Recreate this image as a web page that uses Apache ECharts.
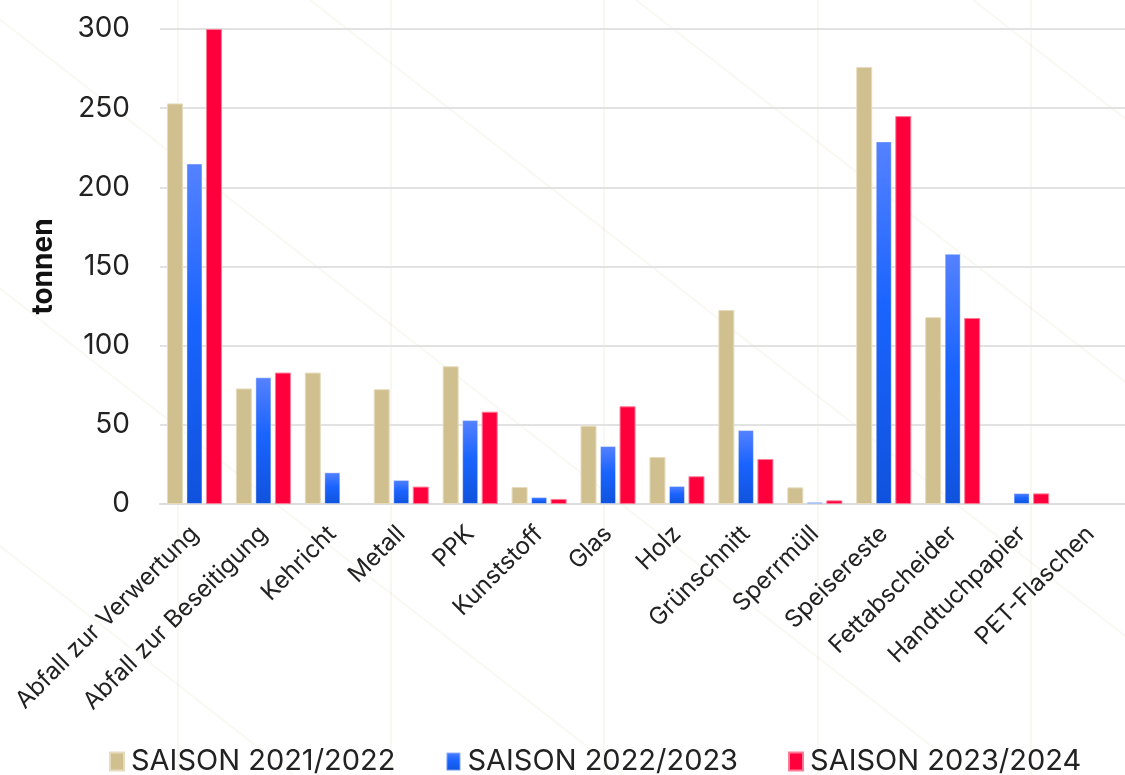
<!DOCTYPE html>
<html>
<head>
<meta charset="utf-8">
<script src="https://cdn.jsdelivr.net/npm/echarts@6/dist/echarts.min.js"></script>
<style>html,body{margin:0;padding:0;background:#fff;}#c{width:1125px;height:775px;}</style>
</head>
<body>
<div id="c"></div>
<script>
const categories = ['Abfall zur Verwertung','Abfall zur Beseitigung','Kehricht','Metall','PPK','Kunststoff','Glas','Holz','Grünschnitt','Sperrmüll','Speisereste','Fettabscheider','Handtuchpapier','PET-Flaschen'];
const seriesNames = ['SAISON 2021/2022','SAISON 2022/2023','SAISON 2023/2024'];
const saison2122 = [253, 73, 83, 72.5, 87, 10.7, 49.5, 29.7, 122.5, 10.5, 276, 118, null, null];
const saison2223 = [215, 80, 20, 15.2, 53, 4.4, 36.6, 11.4, 46.7, 1.3, 229, 158, 6.9, null];
const saison2324 = [300, 83, null, 11, 58.3, 3.2, 61.7, 17.5, 28.4, 2.3, 245, 117.5, 6.7, null];
const yTicks = {min: 0, max: 300, interval: 50};

const chart = echarts.init(document.getElementById('c'), null, {renderer: 'canvas'});
const FONT = 'Inter, "Liberation Sans", sans-serif';
const blueGrad = new echarts.graphic.LinearGradient(0, 0, 0, 1, [
  {offset: 0, color: '#5582ff'},
  {offset: 0.45, color: '#1a64ff'},
  {offset: 1, color: '#0f52dc'}
]);

// decorative background lines
const deco = [];
[178, 391, 604, 818, 1031].forEach(x => deco.push({
  type: 'line', z: -10, silent: true,
  shape: {x1: x, y1: 0, x2: x, y2: 775},
  style: {stroke: 'rgba(215,205,170,0.16)', lineWidth: 2}
}));
[-700, -370, -25, 310, 636, 973].forEach(x0 => deco.push({
  type: 'line', z: -10, silent: true,
  shape: {x1: x0, y1: 0, x2: x0 + 775 / 0.78, y2: 775},
  style: {stroke: 'rgba(215,205,170,0.14)', lineWidth: 2}
}));

chart.setOption({
  backgroundColor: '#ffffff',
  animation: false,
  graphic: deco,
  textStyle: {fontFamily: FONT},
  grid: {left: 160, top: 29, width: 985, height: 475, containLabel: false},
  legend: {
    bottom: -6, left: 104,
    itemWidth: 14, itemHeight: 18, itemGap: 50,
    icon: 'rect',
    textStyle: {fontSize: 29, color: '#222', fontFamily: FONT, padding: [0, 0, 0, 2]},
    data: seriesNames
  },
  xAxis: {
    type: 'category',
    data: categories,
    axisTick: {show: false},
    axisLine: {lineStyle: {color: '#dcdcdc', width: 2}},
    axisLabel: {rotate: 45, fontSize: 24, color: '#222', margin: 26, interval: 0, fontFamily: FONT}
  },
  yAxis: {
    type: 'value',
    min: yTicks.min, max: yTicks.max, interval: yTicks.interval,
    name: 'tonnen',
    nameLocation: 'middle',
    nameGap: 102,
    nameRotate: 90,
    nameTextStyle: {fontSize: 28, fontWeight: 'bold', color: '#111', fontFamily: FONT},
    axisLabel: {fontSize: 28, color: '#222', margin: 30, fontFamily: FONT},
    splitLine: {lineStyle: {color: '#e2e2e2', width: 2}},
    axisLine: {show: false},
    axisTick: {show: false}
  },
  series: [
    {name: seriesNames[0], type: 'bar', data: saison2122, barWidth: 16, barGap: '22%',
     itemStyle: {color: '#d0bf8f', borderColor: '#e6dbbd', borderWidth: 1}},
    {name: seriesNames[1], type: 'bar', data: saison2223, barWidth: 16, barGap: '22%',
     itemStyle: {color: blueGrad, borderColor: 'rgba(255,255,255,0.4)', borderWidth: 1}},
    {name: seriesNames[2], type: 'bar', data: saison2324, barWidth: 16, barGap: '22%',
     itemStyle: {color: '#ff003c', borderColor: '#ff7a95', borderWidth: 1}}
  ]
});
</script>
</body>
</html>
